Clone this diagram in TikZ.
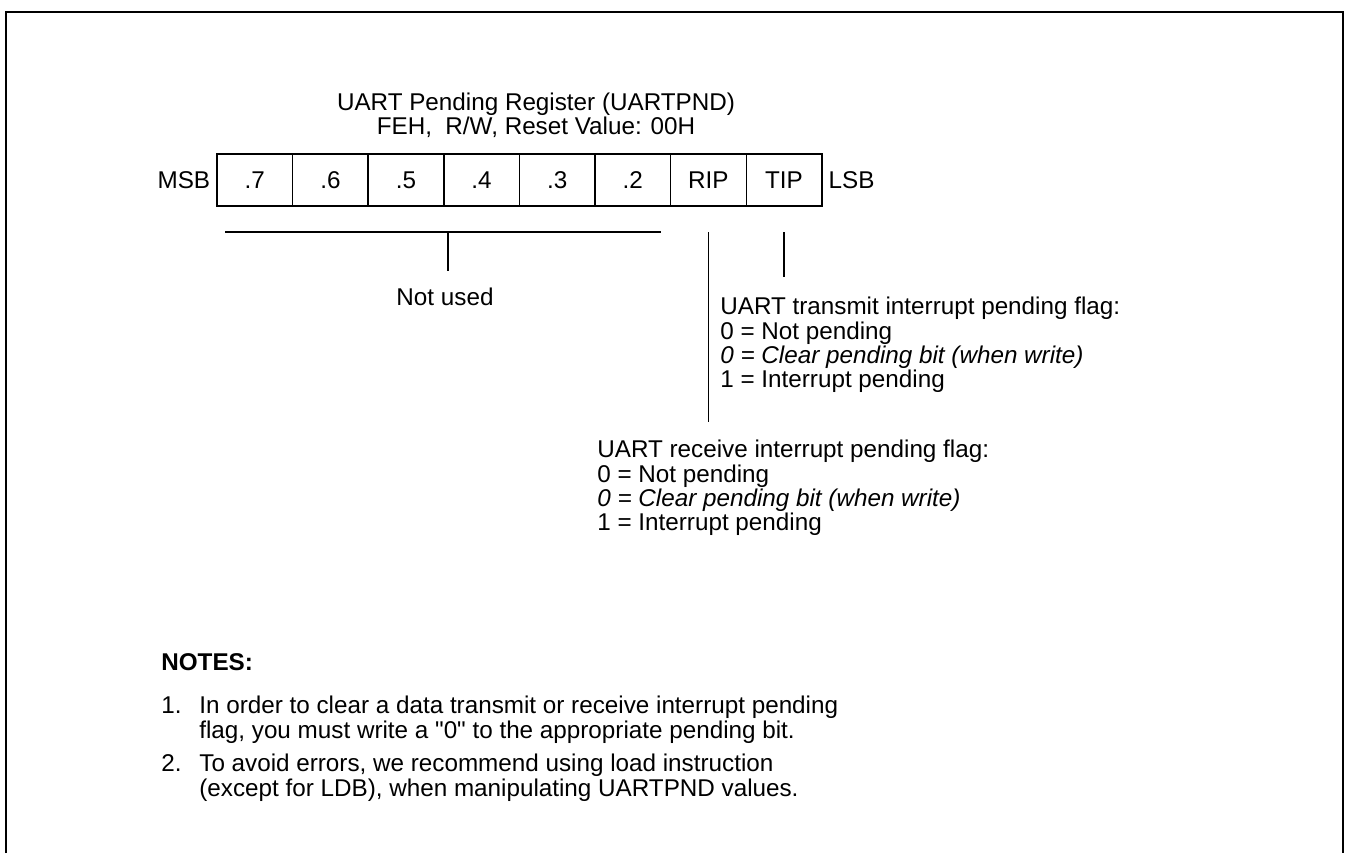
\documentclass[tikz,border=0pt]{standalone}
\usepackage{fontspec}
\setmainfont{Liberation Sans}[Ligatures=TeXOff]
\usetikzlibrary{positioning}

\begin{document}
\begin{tikzpicture}[
    x=0.02cm, y=-0.02cm,
    font=\fontsize{13.8}{13.7}\selectfont,
    cell/.style={rectangle, draw, line width=0.8pt, minimum width=1.512cm, minimum height=1.04cm, inner sep=0pt},
    tick/.style={line width=0.75pt},
    frame/.style={line width=1.2pt},
    desc/.style={align=left, inner sep=0pt, anchor=north west}
  ]
    \useasboundingbox (0,0) rectangle (1348,853);
    \draw[frame] (6,853) -- (6,12) -- (1343,12) -- (1343,853);

    \node[align=center] (title) at (536,115) {UART Pending Register (UARTPND)\\FEH, \ R/W, Reset Value: 00H};

    % register bits
    \foreach \lbl [count=\i] in {.7,.6,.5,.4,.3,.2,RIP,TIP}
      \node[cell] (cell\i) at ({217+75.6*(\i-0.5)},180) {\lbl};
    \node[left=0pt of cell1] (msb) {MSB};
    \node[right=0pt of cell8] (lsb) {LSB};

    % not used bits
    \coordinate (nuL) at (225,232);
    \coordinate (nuR) at (661,232);
    \coordinate (nuTop) at (448,232);
    \coordinate (nuBot) at (448,271);
    \draw[tick] (nuL) -- (nuR);
    \draw[line width=1.2pt] (320,232) -- (358,232);
    \draw[tick] (nuTop) -- (nuBot);
    \node (notused) at (445,297) {Not used};

    % flag bits
    \draw[tick] (cell7.south |- nuL) -- ++(0,190);
    \draw[tick] (cell8.south |- nuL) -- ++(0,45);
    \node[desc] (txflag) at (720,297) {UART transmit interrupt pending flag:\\0 = Not pending\\\textit{0 = Clear pending bit (when write)}\\1 = Interrupt pending};
    \node[desc] (rxflag) at (597,440) {UART receive interrupt pending flag:\\0 = Not pending\\\textit{0 = Clear pending bit (when write)}\\1 = Interrupt pending};

    % notes
    \node[desc] (notes) at (161,653) {\bfseries NOTES:};
    \node[desc] (num1) at (161,696) {1.};
    \node[desc] (note1) at (199,696) {In order to clear a data transmit or receive interrupt pending\\flag, you must write a "0" to the appropriate pending bit.};
    \node[desc] (num2) at (161,754) {2.};
    \node[desc] (note2) at (199,754) {To avoid errors, we recommend using load instruction\\(except for LDB), when manipulating UARTPND values.};
  \end{tikzpicture}
\end{document}
